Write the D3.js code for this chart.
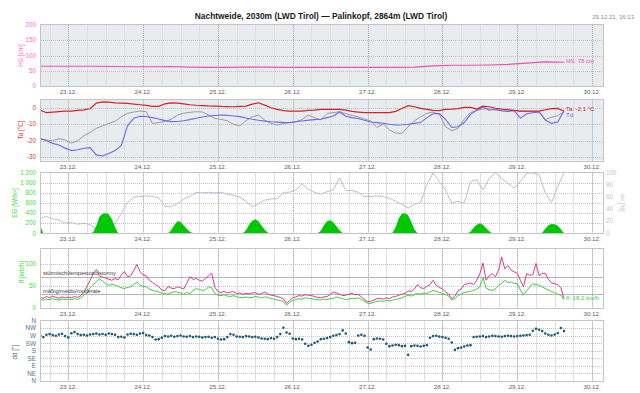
<!doctype html>
<html lang="de">
<head>
  <meta charset="utf-8">
  <title>Nachtweide — Palinkopf</title>
  <style>
    body { margin: 0; background: #fff; }
    svg { display: block; font-family: "Liberation Sans", Arial, sans-serif; }
    .tick { font-size: 6.2px; fill: #606060; }
    .ylab { font-size: 6.3px; }
    .grid-day { stroke: #aeb2b6; stroke-dasharray: 1,1; }
    .grid-6h { stroke: #dde0e3; }
    .grid-y { stroke: #bfc3c7; stroke-dasharray: 1,1; }
    .frame { fill: none; stroke: #c4c4c4; }
  </style>
</head>
<body>
<div id="chart"></div>
<script src="https://cdn.jsdelivr.net/npm/d3@7"></script>
<script>
// hourly samples start 22.12. 15:00, 2-hourly the same, HS every 6 hours
var hs = [65,65,65,65,64,63,63,64,62,61,61,62,62,61,61,61,61,61,61,61,62,66,68,68,69,71,75,79,78];

var ta = [
  -1.4,-3,-2.6,-2.3,-2,
  -2,-1.6,-1.3,-0.6,2.8,3.6,3.4,3,2.8,2.6,2.2,1.8,
  1.4,0.8,0.8,2.4,3,2.8,2.4,1.8,1.5,1.3,1.1,1,
  0.8,0.7,0.6,0.8,1,2.2,3,1.6,0,-1,-1.7,-2,
  -2,-2,-1.6,-1.4,-1,-1,-1,-1,-1.5,-2.2,-2.6,-3,
  -3,-3,-3,-3,-2.2,-0.5,1.3,0.6,-0.4,-1,-1.6,-1.8,
  -1,-0.8,-0.5,0.2,0.2,-0.8,1,0.6,-0.3,-0.8,-1.2,-1.6,
  -2,-2,-2,-2,-1.2,-0.5,-0.4,-2.1
];
var td = [
  -18.6,-20,-21.6,-22.6,-24.5,
  -26,-25.5,-24.6,-24.2,-28.6,-29.3,-27.8,-26,-23,-11,-6.3,-5.2,
  -5.3,-6,-6.8,-7.8,-8.4,-8.3,-7.9,-7.2,-6.4,-5.6,-5,-4.7,
  -4.4,-4.6,-5,-5.4,-6.2,-7,-7.6,-8.1,-8.5,-8.7,-8.9,-9,
  -8.5,-8,-7.5,-7.2,-7,-6,-5,-2.6,-5.2,-6,-6.5,-7.6,
  -8.6,-9,-9.4,-10,-10.5,-10.3,-10,-9.5,-9,-6,-3.6,-3.5,
  -7,-12,-11.5,-9,-4,-1.6,0.4,-1.5,-0.8,-2,-2.2,-1.8,
  -6.3,-3.6,-3,-2.5,-7.5,-9.5,-8.6,-1.8
];
var taPalinkopf = [
  -19.2,-19.5,-20,-18.8,-19.5,
  -21.5,-20,-17,-15,-12.5,-11,-9.6,-8.2,-5.5,-3.4,-2.6,-2,
  -2.4,-9.5,-9,-8.3,-7,-4.5,-3.3,-2.8,-2.4,-2.6,-4.4,-6.5,
  -7,-7.9,-10,-11,-7.8,-5.5,-4.5,-7.5,-9.5,-10.5,-9.5,-9,
  -8.5,-7.2,-4.4,-6,-7.3,-3.4,-3,-2.4,-3.6,-4.6,-5.6,-6.8,
  -8,-12,-9.8,-13.4,-15.4,-15.5,-11.5,-8,-5.5,-3.4,-2.6,-4,
  -11.5,-14,-12.5,-7,-3,-1.5,-0.8,-0.6,-1.6,-1.5,-1.4,-1.7,
  -2,-2.2,-2.4,-2.6,-7,-5.8,-4.8,-2.4
];
var rh = [
  25,28,24,22,17,
  18,15,17,14,8,6,16,16,33,51,60,61,
  62,61,59,45,44,49,57,61,68,67,68,67,
  68,65,63,60,53,44,49,55,57,57,68,68,
  72,82,73,68,65,69,72,92,71,71,68,61,
  61,62,61,58,53,48,42,48,51,81,100,86,
  72,50,53,50,86,89,72,91,100,91,83,75,
  86,100,100,97,67,51,78,100
];

var eg = [
  150,0,0,0,0,0,0,0,0,
  0,0,0,0,0,0,0,0,20,150,330,390,400,380,280,120,0,0,0,0,0,0,0,0,
  0,0,0,0,0,0,0,0,0,60,160,240,230,160,90,30,0,0,0,0,0,0,0,0,
  0,0,0,0,0,0,0,0,0,60,170,250,280,240,150,70,10,0,0,0,0,0,0,0,
  0,0,0,0,0,0,0,0,0,50,160,240,260,220,140,60,5,0,0,0,0,0,0,0,
  0,0,0,0,0,0,0,0,10,120,300,390,400,360,230,80,0,0,0,0,0,0,0,0,
  0,0,0,0,0,0,0,0,0,30,110,170,200,170,100,40,0,0,0,0,0,0,0,0,
  0,0,0,0,0,0,0,0,10,90,160,185,180,150,80,0
];
var ff = [
  18,17,19,18,20,18,17,19,18,
  19,18,20,18,22,28,32,45,52,58,65,60,54,50,53,51,48,45,43,46,47,52,58,50,
  48,47,42,39,37,35,33,32,30,34,36,35,33,30,34,32,38,43,41,39,40,47,45,32,
  28,27,29,26,25,27,24,23,22,24,22,23,25,24,22,24,23,20,19,17,16,13,5,12,
  16,18,20,19,22,21,20,19,18,17,19,18,20,21,24,22,20,18,19,21,20,22,18,14,
  10,9,12,14,15,14,16,15,17,18,20,22,25,28,26,29,32,30,33,32,35,39,37,34,
  32,30,25,18,20,27,30,34,35,37,39,42,47,68,44,40,39,42,50,55,62,57,58,55,
  54,40,28,38,47,54,52,51,47,43,40,36,34,30,28,18
];
var fx = [
  23,21,25,22,26,23,21,24,22,
  24,22,25,23,27,34,48,62,77,86,72,69,67,64,62,66,63,74,82,70,72,84,98,82,
  74,72,62,57,52,47,40,38,48,44,43,47,45,42,55,70,64,66,62,60,66,72,78,46,
  36,34,37,33,35,36,32,33,30,32,31,33,34,30,32,35,31,28,27,25,23,20,9,16,
  22,24,27,26,29,28,27,25,23,22,24,25,30,35,33,30,27,28,30,32,29,30,24,18,
  13,14,17,20,21,19,22,20,24,25,28,30,32,38,36,42,52,45,43,48,52,62,50,46,
  42,36,30,20,26,38,42,52,54,56,52,62,77,101,62,72,77,70,85,115,88,95,85,81,
  78,62,47,77,73,75,100,72,78,77,64,56,54,52,45,20
];
var dd = [
  272,262,276,280,274,270,278,282,268,
  260,285,292,280,274,276,272,278,280,283,278,281,276,284,280,276,262,264,260,278,282,280,276,284,
  286,274,272,262,248,250,258,268,266,270,264,268,272,266,264,268,262,266,264,260,262,264,258,262,
  252,248,250,262,280,276,266,264,262,268,266,262,264,260,254,252,250,256,252,262,280,318,290,282,
  254,250,252,248,222,210,216,228,236,250,252,256,262,270,274,280,302,284,232,226,228,272,276,270,
  200,188,250,254,252,248,222,208,212,216,214,208,210,156,208,212,210,206,210,214,258,268,270,265,
  262,258,252,230,186,196,200,206,212,214,262,264,266,268,262,266,270,268,266,264,268,270,268,266,
  268,270,272,274,276,300,312,306,298,284,276,272,278,286,316,298
];

var egTicks = [0,200,400,600,800,1000,1200];
var rhTicks = [0,20,40,60,80,100];
var ddTicks = [0,45,90,135,180,225,270,315,360];
var ddNames = ['N','NE','E','SE','S','SW','W','NW','N'];

(function(){
  var width = 640, height = 393;
  var start = new Date(2021, 11, 22, 15);
  var svg = d3.select('#chart').append('svg').attr('width', width).attr('height', height);

  var x = d3.scaleTime()
      .domain([new Date(2021, 11, 22, 15, 15), new Date(2021, 11, 30, 3, 30)])
      .range([41, 603]);
  var days = d3.timeDay.range(new Date(2021, 11, 23), new Date(2021, 11, 30, 1));
  var sixH = d3.timeHour.every(6).range(x.domain()[0], x.domain()[1]);
  var fmtDay = d3.timeFormat('%d.%m.');
  var fmtSpace = d3.formatLocale({decimal: ',', thousands: ' ', grouping: [3], currency: ['', '']}).format(',d');

  function series(values, stepH) {
    return values.map(function(v, i) { return [new Date(+start + i * stepH * 3600e3), v]; });
  }

  var frames = [];

  function panel(id, y, ticks, bg) {
    var top = y.range()[1], bottom = y.range()[0];
    var g = svg.append('g');
    g.append('rect').attr('x', 41).attr('y', top).attr('width', 562).attr('height', bottom - top).attr('fill', bg);
    svg.append('clipPath').attr('id', 'clip-' + id).append('rect')
        .attr('x', 41).attr('y', top).attr('width', 562).attr('height', bottom - top);

    g.selectAll('.g6').data(sixH).enter().append('line')
        .attr('class', 'grid-6h')
        .attr('x1', function(d) { return Math.round(x(d)) + 0.5; })
        .attr('x2', function(d) { return Math.round(x(d)) + 0.5; })
        .attr('y1', top).attr('y2', bottom);
    g.selectAll('.gd').data(days).enter().append('line')
        .attr('class', 'grid-day')
        .attr('x1', function(d) { return Math.round(x(d)) + 0.5; })
        .attr('x2', function(d) { return Math.round(x(d)) + 0.5; })
        .attr('y1', top).attr('y2', bottom);
    g.selectAll('.gy').data(ticks.slice(1, -1)).enter().append('line')
        .attr('class', 'grid-y')
        .attr('x1', 41).attr('x2', 603)
        .attr('y1', function(d) { return Math.round(y(d)) + 0.5; })
        .attr('y2', function(d) { return Math.round(y(d)) + 0.5; });

    g.selectAll('.dl').data(days).enter().append('text')
        .attr('class', 'tick')
        .attr('x', function(d) { return x(d); })
        .attr('y', bottom + 8)
        .attr('text-anchor', 'middle')
        .text(fmtDay);

    frames.push([top, bottom]);
    return {g: g, plot: svg.append('g').attr('clip-path', 'url(#clip-' + id + ')')};
  }

  function yLabels(g, y, ticks, color, fmt, xPos, anchor) {
    g.selectAll(null).data(ticks).enter().append('text')
        .attr('class', 'ylab')
        .attr('x', xPos || 36)
        .attr('y', function(d) { return y(d); })
        .attr('dy', '0.35em')
        .attr('text-anchor', anchor || 'end')
        .attr('fill', color)
        .text(fmt || function(d) { return d; });
  }

  function yTitle(text, xPos, cy, color, rot) {
    svg.append('text')
        .attr('transform', 'translate(' + xPos + ',' + cy + ') rotate(' + (rot || -90) + ')')
        .attr('text-anchor', 'middle')
        .attr('font-size', 6.3)
        .attr('fill', color)
        .text(text);
  }

  function endLabel(text, xPos, yPos, color) {
    svg.append('text').attr('x', xPos).attr('y', yPos)
        .attr('font-size', 6).attr('fill', color).text(text);
  }

  function line(y) {
    return d3.line().x(function(d) { return x(d[0]); }).y(function(d) { return y(d[1]); });
  }

  // title
  svg.append('text').attr('x', 321).attr('y', 19).attr('text-anchor', 'middle')
      .attr('font-size', 8.4).attr('font-weight', 'bold').attr('fill', '#1a1a1a')
      .text('Nachtweide, 2030m (LWD Tirol) \u2014 Palinkopf, 2864m (LWD Tirol)');
  svg.append('text').attr('x', 634).attr('y', 18.5).attr('text-anchor', 'end')
      .attr('font-size', 6).attr('fill', '#8a8a8a').text('29.12.21, 16:13');

  // snow depth
  var yHs = d3.scaleLinear().domain([0, 200]).range([86, 25]);
  var p1 = panel('hs', yHs, [0, 50, 100, 150, 200], '#e8ecef');
  yLabels(p1.g, yHs, [0, 50, 100, 150, 200], '#ff6ec4');
  yTitle('HS [cm]', 22.5, 55.5, '#ff6ec4');
  p1.plot.append('path').datum(series(hs, 6)).attr('d', line(yHs))
      .attr('fill', 'none').attr('stroke', '#f050b0').attr('stroke-width', 1.1);
  endLabel('HS: 78 cm', 566, 63.3, '#f050b0');

  // temperatures
  var yTa = d3.scaleLinear().domain([-32, 5]).range([160.5, 99.5]);
  var p2 = panel('ta', yTa, [-32, -30, -20, -10, 0, 5], '#e8ecef');
  yLabels(p2.g, yTa, [-30, -20, -10, 0], '#e03a3a');
  yTitle('Ta [\u00b0C]', 22.5, 130, '#e03a3a');
  p2.plot.append('path').datum(series(taPalinkopf, 2)).attr('d', line(yTa))
      .attr('fill', 'none').attr('stroke', '#9a9a9a').attr('stroke-width', 1);
  p2.plot.append('path').datum(series(td, 2)).attr('d', line(yTa))
      .attr('fill', 'none').attr('stroke', '#6a6af0').attr('stroke-width', 1.1);
  p2.plot.append('path').datum(series(ta, 2)).attr('d', line(yTa))
      .attr('fill', 'none').attr('stroke', '#d42424').attr('stroke-width', 1.2);
  endLabel('Ta: -2,1 \u00b0C', 566, 111, '#d42424');
  endLabel('Td', 566, 117.3, '#6a6af0');

  // global radiation + relative humidity
  var yEg = d3.scaleLinear().domain([0, 1200]).range([233.3, 173]);
  var yRh = d3.scaleLinear().domain([0, 100]).range([233.3, 173]);
  var p3 = panel('eg', yEg, egTicks, '#ffffff');
  yLabels(p3.g, yEg, egTicks, '#3fdc3f', fmtSpace);
  yLabels(p3.g, yRh, rhTicks, '#c4c4d4', null, 606, 'start');
  yTitle('EG [W/m\u00b2]', 16.5, 203, '#3fdc3f');
  yTitle('rH [%]', 619.5, 203, '#c4c4d4', 90);
  p3.plot.append('path').datum(series(rh, 2)).attr('d', line(yRh))
      .attr('fill', 'none').attr('stroke', '#bdbdcf').attr('stroke-width', 1);
  p3.plot.append('path').datum(series(eg, 1))
      .attr('d', d3.area().x(function(d) { return x(d[0]); }).y0(yEg(0)).y1(function(d) { return yEg(d[1]); }))
      .attr('fill', '#00c800');

  // wind speed
  var yFf = d3.scaleLinear().domain([0, 133]).range([307.5, 249]);
  var p4 = panel('ff', yFf, [0, 50, 100, 133], '#ffffff');
  yLabels(p4.g, yFf, [0, 50, 100], '#3fdc3f');
  yTitle('ff [km/h]', 23.5, 272, '#3fdc3f');
  var thresholds = [[70, 'st\u00fcrmisch/tempestoso/stormy'], [30, 'm\u00e4\u00dfig/medio/moderate']];
  thresholds.forEach(function(t) {
    var yy = Math.round(yFf(t[0])) + 0.5;
    p4.g.append('line').attr('x1', 41).attr('x2', 603).attr('y1', yy).attr('y2', yy)
        .attr('stroke', '#b4b4b4');
  });
  p4.plot.append('path').datum(series(fx, 1)).attr('d', line(yFf))
      .attr('fill', 'none').attr('stroke', '#dc3a8a').attr('stroke-width', 1);
  p4.plot.append('path').datum(series(ff, 1)).attr('d', line(yFf))
      .attr('fill', 'none').attr('stroke', '#3ccf3c').attr('stroke-width', 1);
  thresholds.forEach(function(t) {
    svg.append('text').attr('x', 43).attr('y', yFf(t[0]) - 1.5)
        .attr('font-size', 5.6).attr('fill', '#3a3a3a').text(t[1]);
  });
  endLabel('ff: 18,2 km/h', 566, 299.5, '#3ccf3c');

  // wind direction
  var yDd = d3.scaleLinear().domain([0, 360]).range([381, 320.7]);
  var p5 = panel('dd', yDd, ddTicks, '#ffffff');
  yLabels(p5.g, yDd, ddTicks, '#4f7490', function(d, i) { return ddNames[i]; });
  yTitle('dd [\u00b0]', 16.5, 352, '#4f7490');
  p5.plot.selectAll('circle').data(series(dd, 1)).enter().append('circle')
      .attr('cx', function(d) { return x(d[0]); })
      .attr('cy', function(d) { return yDd(d[1]); })
      .attr('r', 1.3)
      .attr('fill', '#1d5a78');

  frames.forEach(function(f) {
    svg.append('rect').attr('class', 'frame')
        .attr('x', 40.5).attr('y', Math.round(f[0]) - 0.5)
        .attr('width', 563).attr('height', Math.round(f[1]) - Math.round(f[0]) + 1);
  });
})();
</script>
</body>
</html>
